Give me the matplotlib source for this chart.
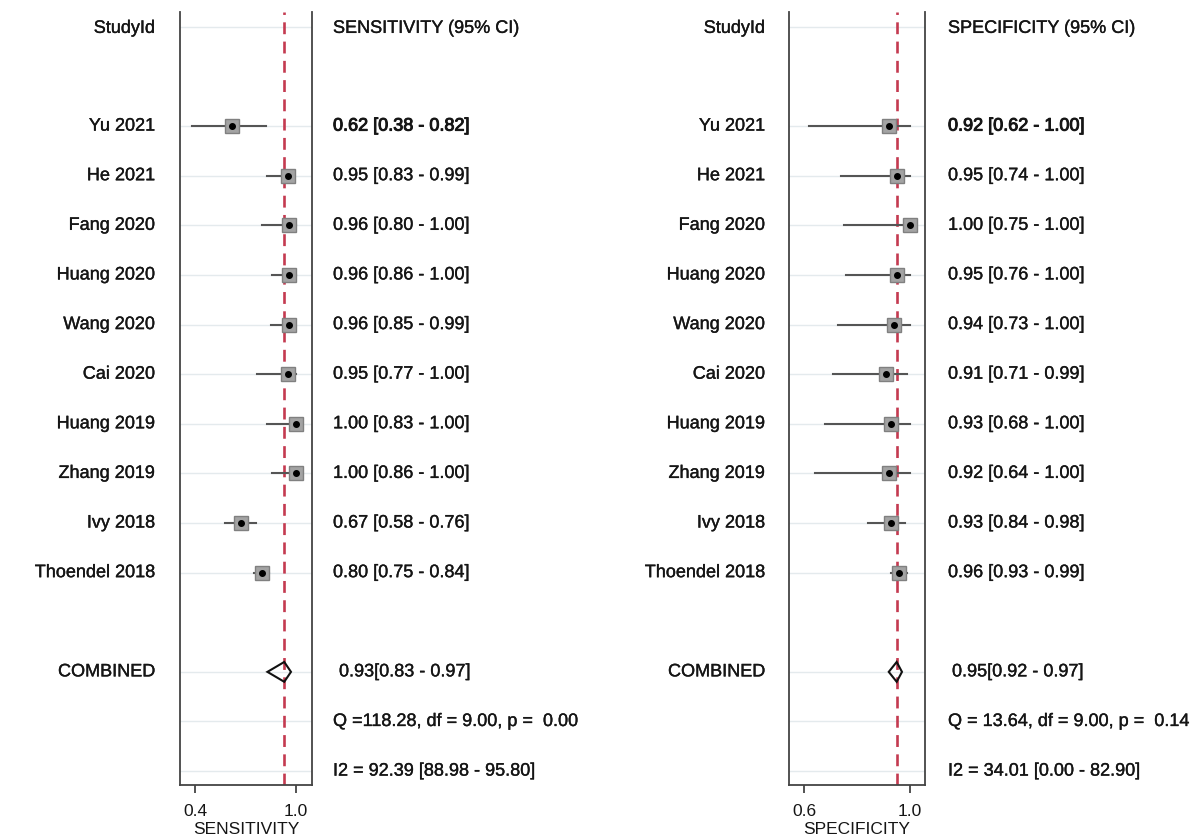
import matplotlib.pyplot as plt
import matplotlib.patheffects as pe
from matplotlib.transforms import blended_transform_factory
from matplotlib.patches import Polygon

plt.rcParams['font.family'] = ['Liberation Sans', 'DejaVu Sans']

# Daten aus der Abbildung
studies = ["Yu 2021", "He 2021", "Fang 2020", "Huang 2020", "Wang 2020",
           "Cai 2020", "Huang 2019", "Zhang 2019", "Ivy 2018", "Thoendel 2018"]

sens = [0.62, 0.95, 0.96, 0.96, 0.96, 0.95, 1.00, 1.00, 0.67, 0.80]
sens_lo = [0.38, 0.83, 0.80, 0.86, 0.85, 0.77, 0.83, 0.86, 0.58, 0.75]
sens_hi = [0.82, 0.99, 1.00, 1.00, 0.99, 1.00, 1.00, 1.00, 0.76, 0.84]
sens_comb = (0.93, 0.83, 0.97)
sens_q = "Q =118.28, df = 9.00, p =  0.00"
sens_i2 = "I2 = 92.39 [88.98 - 95.80]"

spec = [0.92, 0.95, 1.00, 0.95, 0.94, 0.91, 0.93, 0.92, 0.93, 0.96]
spec_lo = [0.62, 0.74, 0.75, 0.76, 0.73, 0.71, 0.68, 0.64, 0.84, 0.93]
spec_hi = [1.00, 1.00, 1.00, 1.00, 1.00, 0.99, 1.00, 1.00, 0.98, 0.99]
spec_comb = (0.95, 0.92, 0.97)
spec_q = "Q = 13.64, df = 9.00, p =  0.14"
spec_i2 = "I2 = 34.01 [0.00 - 82.90]"

W, H = 1195, 839
fig = plt.figure(figsize=(W / 100, H / 100), dpi=100)

txt_col = "#151515"
fs = 13
heavy = [pe.withStroke(linewidth=0.7, foreground=txt_col)]
light = [pe.withStroke(linewidth=0.25, foreground=txt_col)]


def panel(x0, x1, xlim, ticks, name, est, lo, hi, comb, qtxt, i2txt,
          lab_x, val_x, comb_x):
    ax = fig.add_axes([x0 / W, 1 - 785 / H, (x1 - x0) / W, (785 - 12) / H])
    ax.set_xlim(*xlim)
    ax.set_ylim(15.28, -0.30)

    n = len(est)
    rows = list(range(2, 2 + n))
    comb_row = 2 + n + 1

    # Gitterlinien
    for r in [0] + rows + [comb_row, comb_row + 1, comb_row + 2]:
        ax.axhline(r, color="#e4eaed", lw=1.0, zorder=0)

    ax.axvline(comb[0], color="#c43a50", lw=1.9, ls=(0, (4.5, 2.8)), zorder=1)

    for r, e, l, h in zip(rows, est, lo, hi):
        ax.plot([l, h], [r, r], color="#555555", lw=1.5, zorder=2)
        ax.plot(e, r, marker="s", ms=10, mfc="#a3a3a3", mec="#808080",
                mew=1.0, zorder=3)
        ax.plot(e, r, marker="o", ms=4, color="black", zorder=4)

    c, cl, ch = comb
    ax.add_patch(Polygon([[cl, comb_row], [c, comb_row - 0.2],
                          [ch, comb_row], [c, comb_row + 0.2]],
                         closed=True, fill=False, ec="#111111", lw=1.5,
                         zorder=4))

    ax.spines["top"].set_visible(False)
    for s in ["left", "right", "bottom"]:
        ax.spines[s].set_color("#444444")
        ax.spines[s].set_linewidth(1.3)
    ax.set_yticks([])
    ax.set_xticks(ticks)
    ax.set_xticklabels([f"{t:.1f}" for t in ticks])
    ax.tick_params(axis="x", direction="out", length=6, width=1.3,
                   colors="#444444", labelcolor=txt_col, labelsize=12.5, pad=8)
    ax.set_xlabel(name, fontsize=12.5, color=txt_col, labelpad=2)

    tr = blended_transform_factory(fig.transFigure, ax.transData)
    kw = dict(transform=tr, va="center", fontsize=fs, color=txt_col,
              path_effects=light)
    ax.text(lab_x / W, 0.03, "StudyId", ha="right", **kw)
    ax.text(val_x / W, 0.03, f"{name} (95% CI)", ha="left", **kw)
    for i, (r, sname, e, l, h) in enumerate(zip(rows, studies, est, lo, hi)):
        ax.text(lab_x / W, r, sname, ha="right", **kw)
        t = ax.text(val_x / W, r, f"{e:.2f} [{l:.2f} - {h:.2f}]",
                    ha="left", **kw)
        if i == 0:
            t.set_path_effects(heavy)
    ax.text(lab_x / W, comb_row, "COMBINED", ha="right", **kw)
    ax.text(comb_x / W, comb_row, f"{c:.2f}[{cl:.2f} - {ch:.2f}]",
            ha="left", **kw)
    ax.text(val_x / W, comb_row + 1, qtxt, ha="left", **kw)
    ax.text(val_x / W, comb_row + 2, i2txt, ha="left", **kw)
    return ax


panel(180, 312, (0.31, 1.095), [0.4, 1.0], "SENSITIVITY",
      sens, sens_lo, sens_hi, sens_comb, sens_q, sens_i2, 155, 333, 339)
panel(789, 925, (0.543, 1.057), [0.6, 1.0], "SPECIFICITY",
      spec, spec_lo, spec_hi, spec_comb, spec_q, spec_i2, 765, 948, 952)

fig.savefig("out.png", dpi=100)
